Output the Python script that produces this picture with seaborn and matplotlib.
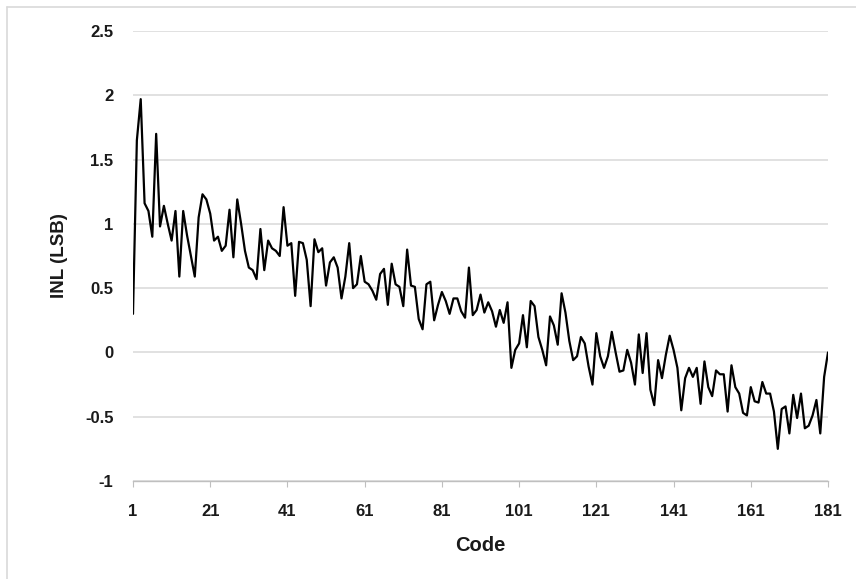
import numpy as np
import pandas as pd
import matplotlib
matplotlib.use("Agg")
import matplotlib.pyplot as plt
import seaborn as sns
from matplotlib.lines import Line2D

codes = list(range(1, 182))
inl = [
    0.30, 1.65, 1.97, 1.16, 1.10, 0.90, 1.70, 0.98, 1.14, 1.00,
    0.87, 1.10, 0.59, 1.10, 0.91, 0.75, 0.59, 1.05, 1.23, 1.19,
    1.08, 0.87, 0.90, 0.79, 0.83, 1.11, 0.74, 1.19, 1.00, 0.79,
    0.66, 0.64, 0.57, 0.96, 0.64, 0.87, 0.81, 0.79, 0.75, 1.13,
    0.83, 0.85, 0.44, 0.86, 0.85, 0.72, 0.36, 0.88, 0.78, 0.81,
    0.52, 0.70, 0.74, 0.66, 0.42, 0.59, 0.85, 0.50, 0.53, 0.75,
    0.55, 0.53, 0.48, 0.41, 0.61, 0.65, 0.37, 0.69, 0.53, 0.51,
    0.36, 0.80, 0.52, 0.51, 0.26, 0.18, 0.53, 0.55, 0.25, 0.37,
    0.47, 0.40, 0.30, 0.42, 0.42, 0.32, 0.27, 0.66, 0.29, 0.33,
    0.45, 0.31, 0.39, 0.32, 0.20, 0.33, 0.23, 0.39, -0.12, 0.02,
    0.07, 0.29, 0.04, 0.40, 0.36, 0.12, 0.02, -0.10, 0.28, 0.21,
    0.06, 0.46, 0.31, 0.09, -0.06, -0.03, 0.12, 0.07, -0.11, -0.25,
    0.15, -0.03, -0.12, -0.03, 0.16, 0.00, -0.15, -0.14, 0.02, -0.08,
    -0.25, 0.14, -0.16, 0.15, -0.29, -0.41, -0.06, -0.20, -0.02, 0.13,
    0.02, -0.12, -0.45, -0.20, -0.12, -0.19, -0.12, -0.40, -0.07, -0.27,
    -0.34, -0.14, -0.17, -0.17, -0.46, -0.10, -0.27, -0.32, -0.47, -0.49,
    -0.27, -0.38, -0.39, -0.23, -0.32, -0.32, -0.46, -0.75, -0.44, -0.42,
    -0.63, -0.33, -0.51, -0.32, -0.59, -0.57, -0.49, -0.37, -0.63, -0.19,
    0.00,
]
x_ticks = [1, 21, 41, 61, 81, 101, 121, 141, 161, 181]
y_ticks = [-1, -0.5, 0, 0.5, 1, 1.5, 2, 2.5]
y_tick_labels = ["-1", "-0.5", "0", "0.5", "1", "1.5", "2", "2.5"]
x_label = "Code"
y_label = "INL (LSB)"

sns.set_theme(style="white")
plt.rcParams["font.family"] = ["Liberation Sans", "DejaVu Sans"]

W, H = 856, 579
fig = plt.figure(figsize=(W / 100, H / 100), dpi=100)
ax = fig.add_axes([133 / W, 1 - 481 / H, (828 - 133) / W, (481 - 31) / H])

df = pd.DataFrame({"code": codes, "inl": inl})
sns.lineplot(data=df, x="code", y="inl", ax=ax, color="black", linewidth=1.6)

ax.set_xlim(1, 181)
ax.set_ylim(-1, 2.5)
ax.set_xticks(x_ticks)
ax.set_xticklabels([str(t) for t in x_ticks], fontsize=12, fontweight="bold", color="#1a1a1a")
ax.set_yticks(y_ticks)
ax.set_yticklabels(y_tick_labels, fontsize=12, fontweight="bold", color="#1a1a1a")

ax.grid(axis="y", color="#d9d9d9", linewidth=1.1)
ax.grid(axis="x", visible=False)
ax.set_axisbelow(True)
for s in ["top", "right", "left"]:
    ax.spines[s].set_visible(False)
ax.spines["bottom"].set_color("#bfbfbf")
ax.spines["bottom"].set_linewidth(1.0)
ax.tick_params(axis="x", length=4, width=0.8, color="#bfbfbf", pad=12.5, bottom=True, direction="out")
ax.tick_params(axis="y", length=0, pad=14)

ax.set_xlabel(x_label, fontsize=14.5, fontweight="bold", color="#1a1a1a", labelpad=12)
ax.set_ylabel(y_label, fontsize=13.5, fontweight="bold", color="#1a1a1a", labelpad=12)

# chart outer border (top and left edges visible)
fig.add_artist(Line2D([7 / W, 1.0], [1 - 7 / H, 1 - 7 / H], transform=fig.transFigure, color="#d9d9d9", linewidth=1.2))
fig.add_artist(Line2D([7 / W, 7 / W], [0, 1 - 7 / H], transform=fig.transFigure, color="#d9d9d9", linewidth=1.2))

fig.savefig("out.png", dpi=100)
